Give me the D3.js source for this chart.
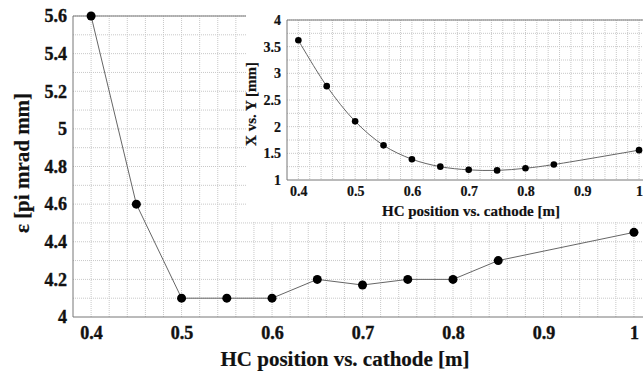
<!DOCTYPE html>
<html>
<head>
<meta charset="utf-8">
<script src="https://cdn.jsdelivr.net/npm/d3@7"></script>
<style>
    body { margin: 0; background: #fff; }
</style>
</head>
<body>
<svg id="chart" width="643" height="373"></svg>
<script>
// Main chart data
var positions = [0.4, 0.45, 0.5, 0.55, 0.6, 0.65, 0.7, 0.75, 0.8, 0.85, 1.0];
var emittance = [5.6, 4.6, 4.1, 4.1, 4.1, 4.2, 4.17, 4.2, 4.2, 4.3, 4.45];
var mainXTicks = [0.4, 0.5, 0.6, 0.7, 0.8, 0.9, 1.0];
var mainYTicks = [4, 4.2, 4.4, 4.6, 4.8, 5, 5.2, 5.4, 5.6];

// Inset data
var insetPositions = [0.4, 0.45, 0.5, 0.55, 0.6, 0.65, 0.7, 0.75, 0.8, 0.85, 1.0];
var xyRatio = [3.62, 2.76, 2.1, 1.65, 1.39, 1.25, 1.19, 1.18, 1.22, 1.29, 1.56];
var insetXTicks = [0.4, 0.5, 0.6, 0.7, 0.8, 0.9, 1.0];
var insetYTicks = [1, 1.5, 2, 2.5, 3, 3.5, 4];

var svg = d3.select("#chart");

var style = {
    font: "'Liberation Serif', 'Times New Roman', serif",
    textColor: "#111",
    axisColor: "#777",
    gridColor: "#c8c8c8",
    lineColor: "#666"
};

var fmt = function(d) { return String(+d.toFixed(2)); };

var styleText = function(sel, size, weight) {
    sel.style("font-family", style.font)
        .style("font-weight", "bold")
        .style("font-size", size)
        .style("fill", style.textColor)
        .style("stroke", style.textColor)
        .style("stroke-width", weight || 0);
};

var drawPlot = function(layer, opt) {
    var x = d3.scaleLinear().domain(opt.xDomain).range([opt.left, opt.right]);
    var y = d3.scaleLinear().domain(opt.yDomain).range([opt.bottom, opt.top]);

    // grid
    layer.append("g").selectAll("line")
        .data(d3.range(opt.xDomain[0], opt.xDomain[1] + 1e-9, opt.xGridStep).slice(1))
        .join("line")
        .attr("x1", function(d) { return x(d); })
        .attr("x2", function(d) { return x(d); })
        .attr("y1", opt.top)
        .attr("y2", opt.bottom)
        .attr("stroke", style.gridColor)
        .attr("stroke-dasharray", "1,1");

    layer.append("g").selectAll("line")
        .data(d3.range(opt.yDomain[0], opt.yDomain[1] + 1e-9, opt.yGridStep).slice(1))
        .join("line")
        .attr("x1", opt.left)
        .attr("x2", opt.right)
        .attr("y1", function(d) { return y(d); })
        .attr("y2", function(d) { return y(d); })
        .attr("stroke", style.gridColor)
        .attr("stroke-dasharray", "1,1");

    // frame
    layer.append("path")
        .attr("d", "M" + opt.right + "," + opt.top + "H" + opt.left + "V" + opt.bottom + "H" + opt.right)
        .attr("fill", "none")
        .attr("stroke", style.axisColor);

    // axes (labels only)
    var xAxis = d3.axisBottom(x).tickValues(opt.xTicks).tickSize(0).tickPadding(opt.xPad).tickFormat(fmt);
    var gx = layer.append("g").attr("transform", "translate(0," + opt.bottom + ")").call(xAxis);
    gx.select(".domain").remove();
    gx.selectAll("text").call(styleText, opt.tickFont, opt.tickStroke);

    var yAxis = d3.axisLeft(y).tickValues(opt.yTicks).tickSize(0).tickPadding(opt.yPad).tickFormat(fmt);
    var gy = layer.append("g").attr("transform", "translate(" + opt.left + ",0)").call(yAxis);
    gy.select(".domain").remove();
    gy.selectAll("text").call(styleText, opt.tickFont, opt.tickStroke);

    var pts = opt.xs.map(function(d, i) { return [d, opt.ys[i]]; });

    layer.append("path")
        .datum(pts)
        .attr("fill", "none")
        .attr("stroke", style.lineColor)
        .attr("stroke-width", 1)
        .attr("d", d3.line()
            .curve(opt.curve)
            .x(function(d) { return x(d[0]); })
            .y(function(d) { return y(d[1]); }));

    layer.append("g").selectAll("circle")
        .data(pts)
        .join("circle")
        .attr("cx", function(d) { return x(d[0]); })
        .attr("cy", function(d) { return y(d[1]); })
        .attr("r", opt.dot)
        .attr("fill", "#000");

    // titles
    layer.append("text")
        .attr("x", opt.xTitlePos[0])
        .attr("y", opt.xTitlePos[1])
        .attr("text-anchor", "middle")
        .call(styleText, opt.titleFont, 0.2)
        .text(opt.xTitle);

    layer.append("text")
        .attr("transform", "translate(" + opt.yTitlePos[0] + "," + opt.yTitlePos[1] + ") rotate(-90)")
        .attr("text-anchor", "middle")
        .attr("dy", "0.35em")
        .call(styleText, opt.titleFont, 0.2)
        .text(opt.yTitle);
};

// main plot
drawPlot(svg.append("g"), {
    xDomain: [0.38, 1.01], yDomain: [4, 5.6],
    left: 73, right: 643, top: 16, bottom: 317,
    xGridStep: 0.02, yGridStep: 0.1,
    xTicks: mainXTicks, yTicks: mainYTicks,
    xs: positions, ys: emittance,
    curve: d3.curveLinear, dot: 4.5,
    tickFont: "18px", tickStroke: 0.4, titleFont: "21px", xPad: 9, yPad: 6,
    xTitle: "HC position vs. cathode [m]", xTitlePos: [345, 366],
    yTitle: "ε [pi mrad mm]", yTitlePos: [22, 163]
});

// inset white box
svg.append("rect")
    .attr("x", 246).attr("y", 0)
    .attr("width", 397).attr("height", 221)
    .attr("fill", "#fff");

drawPlot(svg.append("g"), {
    xDomain: [0.38, 1.007], yDomain: [1, 4],
    left: 287, right: 643, top: 20, bottom: 180,
    xGridStep: 0.02, yGridStep: 0.25,
    xTicks: insetXTicks, yTicks: insetYTicks,
    xs: insetPositions, ys: xyRatio,
    curve: d3.curveCatmullRom, dot: 3.3,
    tickFont: "14px", tickStroke: 0.2, titleFont: "15px", xPad: 6, yPad: 6,
    xTitle: "HC position vs. cathode [m]", xTitlePos: [471, 216],
    yTitle: "X vs. Y [mm]", yTitlePos: [251, 104]
});
</script>
</body>
</html>
